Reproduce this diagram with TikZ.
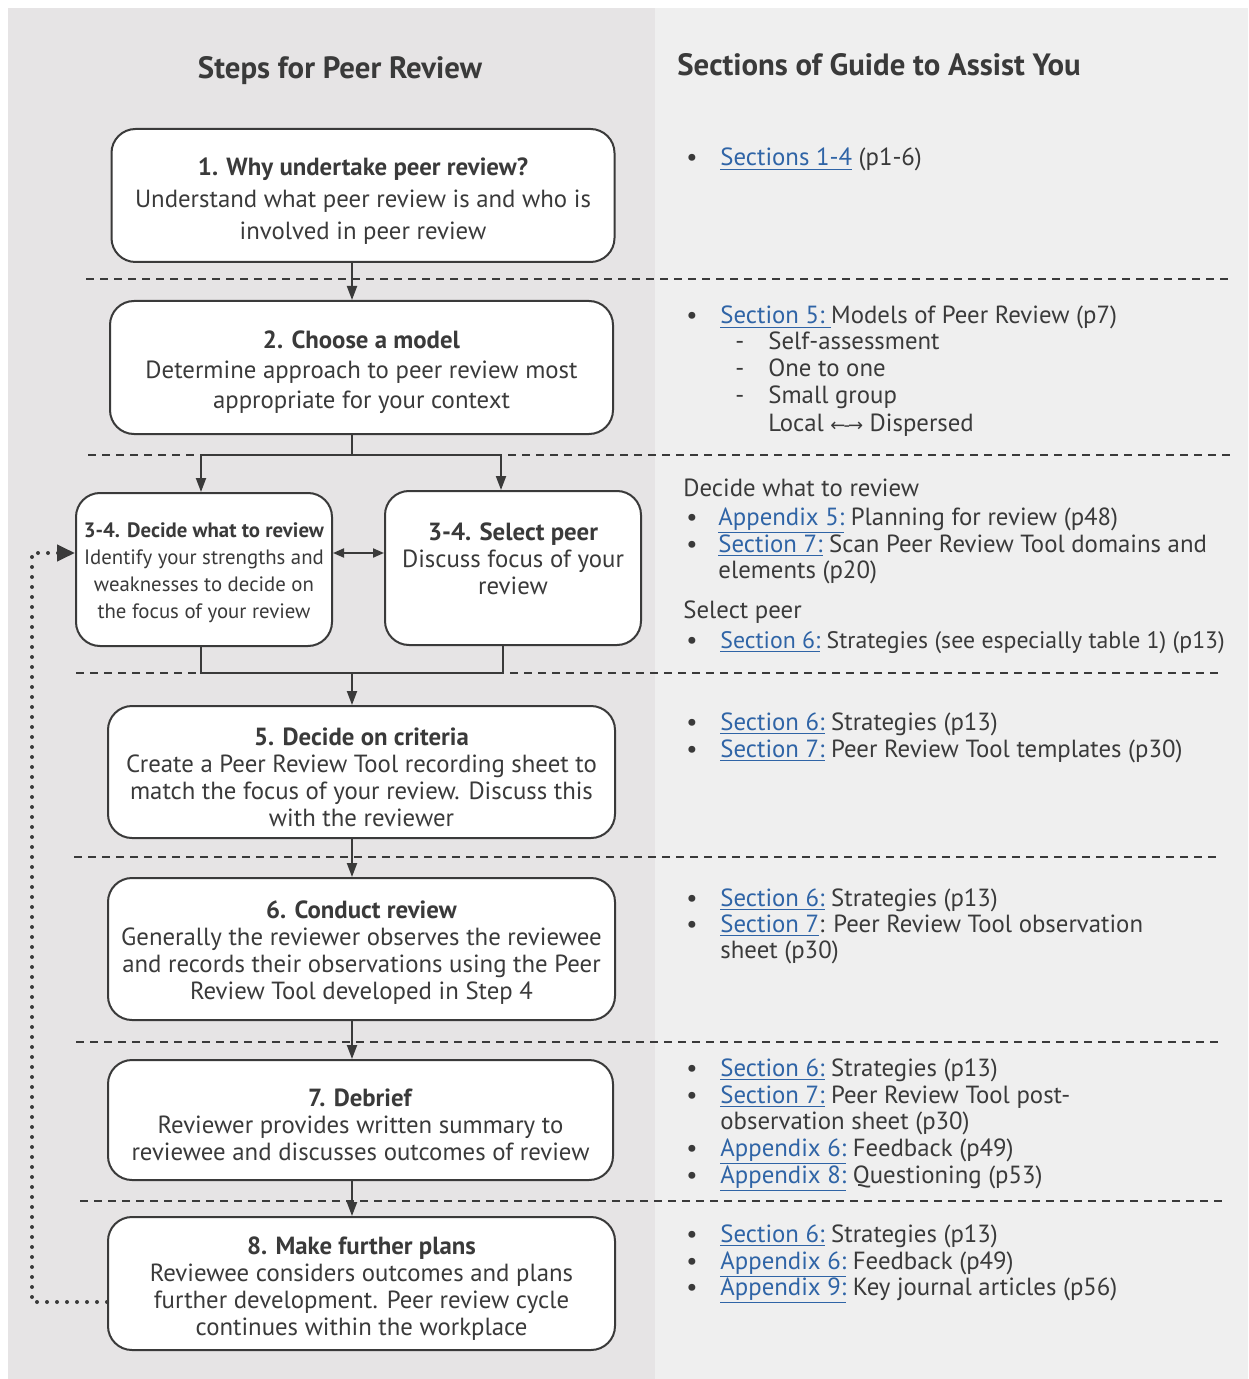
\documentclass[tikz,border=0pt]{standalone}
\usepackage{fontspec}
\setmainfont{PT Sans}
\newfontfamily\symfont{DejaVu Sans}
\usetikzlibrary{arrows.meta}

\definecolor{ink}{HTML}{3A3A3A}
\definecolor{leftbg}{HTML}{E6E4E5}
\definecolor{rightbg}{HTML}{EFEFEF}
\definecolor{linkblue}{HTML}{2F64A6}

% hyperlink-looking reference
\newcommand{\lnk}[1]{\textcolor{linkblue}{\underline{#1}}}

\tikzset{
  stepbox/.style={draw=ink, line width=1pt, fill=white, rounded corners=12pt,
    inner sep=0pt},
  boxtxt/.style={align=center, inner sep=0pt, text=ink,
    font=\fontsize{12.4}{13.5}\selectfont},
  conn/.style={draw=ink, line width=1pt},
  arr/.style={conn, -{Triangle[length=7pt,width=5pt]}},
  dbl/.style={conn, {Triangle[length=5.5pt,width=4.5pt]}-{Triangle[length=5.5pt,width=4.5pt]}},
  fb/.style={draw=ink, line width=2pt, line cap=round, dash pattern=on 0pt off 5pt,
    -{Triangle[length=9pt,width=8pt,line cap=butt]}},
  sep/.style={draw=ink, line width=0.75pt, dash pattern=on 4pt off 3pt},
  rline/.style={anchor=base west, inner sep=0pt, text=ink,
    font=\fontsize{12.4}{13.5}\selectfont},
  heading/.style={anchor=base, inner sep=0pt, text=ink,
    font=\fontsize{15.4}{18}\selectfont\bfseries},
}

\begin{document}
\begin{tikzpicture}[x=0.5pt, y=-0.5pt]
  \useasboundingbox (0,0) rectangle (1248,1379);

  % two background panels
  \fill[leftbg] (8,8) rectangle (655,1379);
  \fill[rightbg] (655,8) rectangle (1248,1379);

  % column headings
  \node[heading] (hleft) at (340,79) {Steps for Peer Review};
  \node[heading, anchor=base west] (hright) at (677,76) {Sections of Guide to Assist You};

  % dashed row separators
  \draw[sep] (86,279) -- (1232,279);
  \draw[sep] (88,455) -- (1232,455);
  \draw[sep] (76,673) -- (1222,673);
  \draw[sep] (74,857) -- (1220,857);
  \draw[sep] (76,1042) -- (1222,1042);
  \draw[sep] (80,1201) -- (1226,1201);

  % step boxes
  \node[stepbox, minimum width=251.5pt, minimum height=66.5pt] (b1) at (363,195.5) {};
  \node[stepbox, minimum width=251.5pt, minimum height=66.5pt] (b2) at (361.5,367.5) {};
  \node[stepbox, minimum width=128pt, minimum height=76.5pt] (b3a) at (204,569.5) {};
  \node[stepbox, minimum width=128pt, minimum height=77pt] (b3b) at (513,568) {};
  \node[stepbox, minimum width=253.5pt, minimum height=66pt] (b5) at (361.5,772) {};
  \node[stepbox, minimum width=253.5pt, minimum height=71pt] (b6) at (361.5,949) {};
  \node[stepbox, minimum width=252.5pt, minimum height=60pt] (b7) at (360.5,1120) {};
  \node[stepbox, minimum width=253.5pt, minimum height=66.5pt] (b8) at (361.5,1283.5) {};

  % step texts
  \node[boxtxt, font=\fontsize{12.4}{16}\selectfont] (b1t) at (363,201)
    {\textbf{1. Why undertake peer review?}\\
     Understand what peer review is and who is\\ involved in peer review};
  \node[boxtxt, font=\fontsize{12.4}{15}\selectfont] (b2t) at (361.5,372)
    {\textbf{2. Choose a model}\\
     Determine approach to peer review most\\ appropriate for your context};
  \node[boxtxt, font=\fontsize{10.4}{13.5}\selectfont] (b3at) at (204,573)
    {\textbf{3-4. Decide what to review}\\
     Identify your strengths and\\ weaknesses to decide on\\ the focus of your review};
  \node[boxtxt] (b3bt) at (513,559)
    {\textbf{3-4. Select peer}\\
     Discuss focus of your\\ review};
  \node[boxtxt] (b5t) at (361.5,777)
    {\textbf{5. Decide on criteria}\\
     Create a Peer Review Tool recording sheet to\\
     match the focus of your review. Discuss this\\ with the reviewer};
  \node[boxtxt] (b6t) at (361.5,953)
    {\textbf{6. Conduct review}\\
     Generally the reviewer observes the reviewee\\
     and records their observations using the Peer\\
     Review Tool developed in Step 4};
  \node[boxtxt] (b7t) at (360.5,1125)
    {\textbf{7. Debrief}\\
     Reviewer provides written summary to\\
     reviewee and discusses outcomes of review};
  \node[boxtxt] (b8t) at (361.5,1289)
    {\textbf{8. Make further plans}\\
     Reviewee considers outcomes and plans\\
     further development. Peer review cycle\\
     continues within the workplace};

  % flow connectors
  \coordinate (spine) at (352,0);
  \coordinate (splitL) at (201,455);
  \coordinate (splitR) at (501,455);
  \coordinate (joinL) at (201,673);
  \coordinate (joinR) at (503,673);
  \coordinate (mid) at (0,553);
  \coordinate (loopB) at (32,1302);
  \coordinate (loopT) at (32,553);

  \draw[arr] (spine |- b1.south) -- (spine |- b2.north);
  \draw[conn] (spine |- b2.south) -- (spine |- splitL);
  \draw[conn] (splitL) -- (splitR);
  \draw[arr] (splitL) -- (splitL |- b3a.north);
  \draw[arr] (splitR) -- (splitR |- b3b.north);
  \draw[dbl] (b3a.east |- mid) -- (b3b.west |- mid);
  \draw[conn] (joinL |- b3a.south) -- (joinL) -- (joinR) -- (joinR |- b3b.south);
  \draw[arr] (spine |- joinL) -- (spine |- b5.north);
  \draw[arr] (spine |- b5.south) -- (spine |- b6.north);
  \draw[arr] (spine |- b6.south) -- (spine |- b7.north);
  \draw[arr] (spine |- b7.south) -- (spine |- b8.north);

  % feedback loop back to the start of step 3-4
  \draw[fb] (b8.west |- loopB) -- (loopB) -- (loopT) -- (b3a.west |- loopT);

  % guide references, right column
  \foreach \n/\y in {k1/166, k2/324, k3/525, k4/552, k5/648, k6/730, k7/757,
                     k8/906, k9/932, k10/1076, k11/1103, k12/1156, k13/1183,
                     k14/1242, k15/1269, k16/1295}
    \node[rline] (\n) at (686,\y) {•};
  \foreach \n/\y in {d1/350, d2/377, d3/404}
    \node[rline] (\n) at (735,\y) {-};

  \node[rline] (r1) at (720,166) {\lnk{Sections 1-4} (p1-6)};

  \node[rline] (r2) at (720,324) {\lnk{Section 5:\ }Models of Peer Review (p7)};
  \node[rline] (r2a) at (768,350) {Self-assessment};
  \node[rline] (r2b) at (768,377) {One to one};
  \node[rline] (r2c) at (768,404) {Small group};
  \node[rline] (r2d) at (768,431) {Local {\symfont\fontsize{9}{10}\selectfont ←\kern-1pt-\kern-1pt→} Dispersed};

  \node[rline] (r3h) at (683,496) {Decide what to review};
  \node[rline] (r3a) at (718,525) {\lnk{Appendix 5:} Planning for review (p48)};
  \node[rline] (r3b) at (718,552) {\lnk{Section 7:} Scan Peer Review Tool domains and};
  \node[rline] (r3c) at (718,578) {elements (p20)};
  \node[rline] (r3d) at (683,618) {Select peer};
  \node[rline, font=\fontsize{11.9}{13.5}\selectfont] (r3e) at (720,648)
    {\lnk{Section 6:} Strategies (see especially table 1) (p13)};

  \node[rline] (r5a) at (720,730) {\lnk{Section 6:} Strategies (p13)};
  \node[rline] (r5b) at (720,757) {\lnk{Section 7:} Peer Review Tool templates (p30)};

  \node[rline] (r6a) at (720,906) {\lnk{Section 6:} Strategies (p13)};
  \node[rline] (r6b) at (720,932) {\lnk{Section 7}: Peer Review Tool observation};
  \node[rline] (r6c) at (720,958) {sheet (p30)};

  \node[rline] (r7a) at (720,1076) {\lnk{Section 6:} Strategies (p13)};
  \node[rline] (r7b) at (720,1103) {\lnk{Section 7:} Peer Review Tool post-};
  \node[rline] (r7c) at (720,1129) {observation sheet (p30)};
  \node[rline] (r7d) at (720,1156) {\lnk{Appendix 6:} Feedback (p49)};
  \node[rline] (r7e) at (720,1183) {\lnk{Appendix 8:} Questioning (p53)};

  \node[rline] (r8a) at (720,1242) {\lnk{Section 6:} Strategies (p13)};
  \node[rline] (r8b) at (720,1269) {\lnk{Appendix 6:} Feedback (p49)};
  \node[rline] (r8c) at (720,1295) {\lnk{Appendix 9:} Key journal articles (p56)};
\end{tikzpicture}
\end{document}
